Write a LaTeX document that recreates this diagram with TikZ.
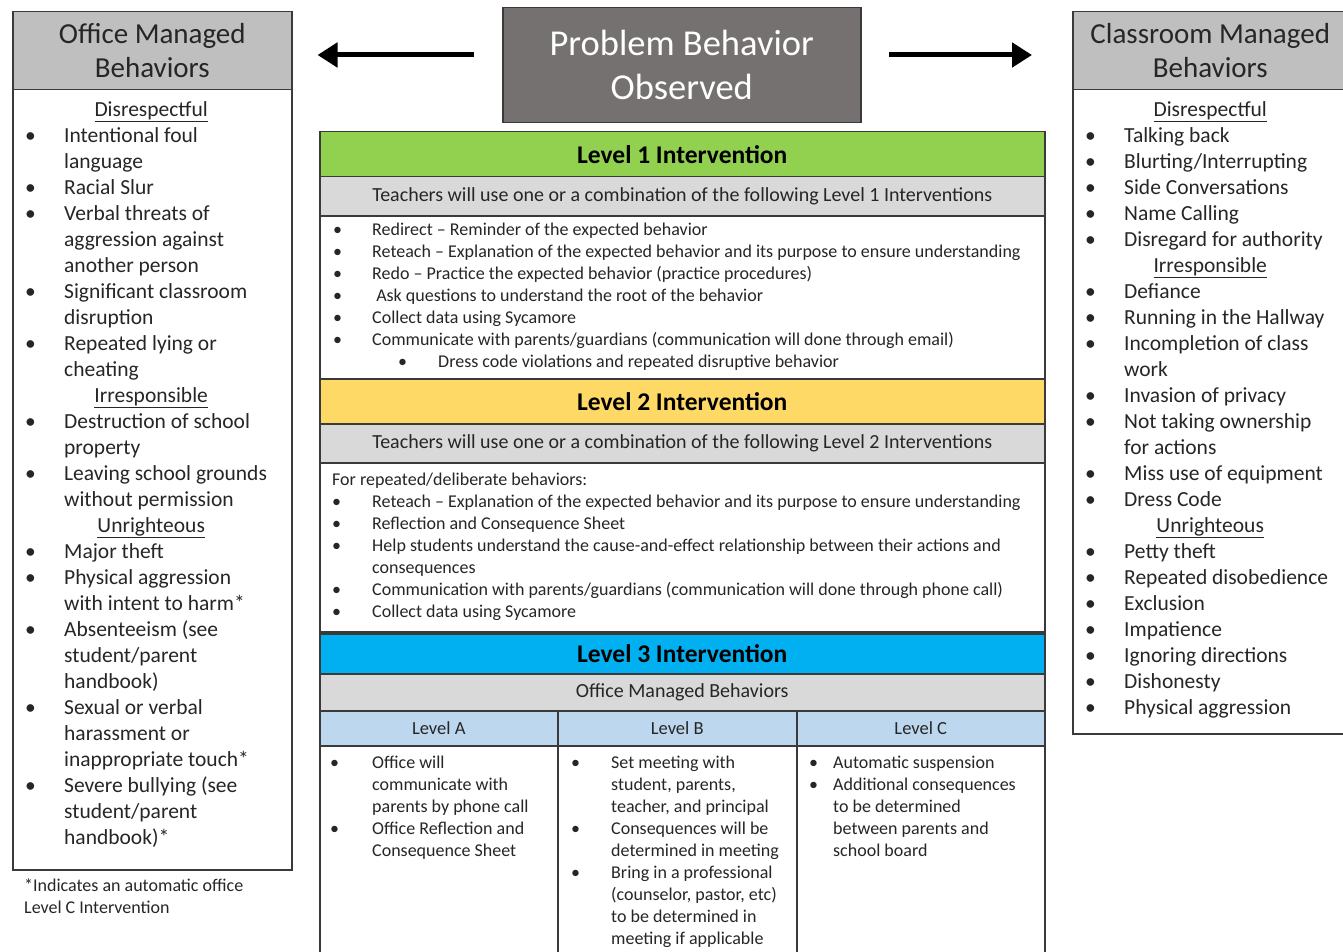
\documentclass[tikz,border=0pt]{standalone}
\usepackage{fontspec}
\setmainfont{Carlito}
\usetikzlibrary{arrows.meta}

\definecolor{boxline}{HTML}{3A3A3A}
\definecolor{txtdark}{HTML}{262626}
\definecolor{hdrgray}{HTML}{BFBFBF}
\definecolor{subgray}{HTML}{D9D9D9}
\definecolor{probgray}{HTML}{767171}
\definecolor{lvlgreen}{HTML}{92D050}
\definecolor{lvlyellow}{HTML}{FFD966}
\definecolor{lvlblue}{HTML}{00B0F0}
\definecolor{colblue}{HTML}{BDD7EE}

% bullet line, continuation line, underlined section head
\newcommand{\bitem}[2][39pt]{\makebox[#1][l]{\textbullet}#2}
\newcommand{\bcont}[2][39pt]{\hspace*{#1}#2}
\newcommand{\shead}[2]{\makebox[#1][c]{\underline{#2}}}

\tikzset{
  boxbase/.style={draw=boxline, line width=1.5pt, anchor=north west, inner sep=0pt, text=txtdark},
  sidehead/.style={boxbase, fill=hdrgray, align=center, font=\fontsize{29}{34}\selectfont},
  bodybox/.style={boxbase, fill=white},
  probbox/.style={boxbase, fill=probgray, text=white, align=center, font=\fontsize{36.5}{44}\selectfont},
  lvlhead/.style={boxbase, minimum width=725pt, font=\fontsize{25.5}{28}\selectfont\bfseries, text=black},
  subhead/.style={boxbase, fill=subgray, minimum width=725pt, font=\fontsize{20}{24}\selectfont},
  colhead/.style={boxbase, fill=colblue, minimum height=35pt, font=\fontsize{18.5}{22}\selectfont},
  biglist/.style={anchor=north west, inner sep=0pt, align=left, text=txtdark, font=\fontsize{21.5}{26}\selectfont},
  smalllist/.style={anchor=north west, inner sep=0pt, align=left, text=txtdark, font=\fontsize{18}{22}\selectfont},
  bigarrow/.style={-{Triangle[length=20pt,width=24pt]}, line width=5pt, black}
}

\begin{document}
\begin{tikzpicture}[x=1pt,y=-1pt]
\useasboundingbox (0,0) rectangle (1343,952);

% office managed column
\node[sidehead, minimum width=279pt, minimum height=78pt] (offhead) at (12,11) {Office Managed\\Behaviors};
\node[bodybox, minimum width=279pt, minimum height=780pt] (offbody) at (12,89) {};
\node[biglist] (offlist) at (25,101) {%
\shead{252pt}{Disrespectful}\\
\bitem{Intentional foul}\\ \bcont{language}\\
\bitem{Racial Slur}\\
\bitem{Verbal threats of}\\ \bcont{aggression against}\\ \bcont{another person}\\
\bitem{Significant classroom}\\ \bcont{disruption}\\
\bitem{Repeated lying or}\\ \bcont{cheating}\\
\shead{252pt}{Irresponsible}\\
\bitem{Destruction of school}\\ \bcont{property}\\
\bitem{Leaving school grounds}\\ \bcont{without permission}\\
\shead{252pt}{Unrighteous}\\
\bitem{Major theft}\\
\bitem{Physical aggression}\\ \bcont{with intent to harm*}\\
\bitem{Absenteeism (see}\\ \bcont{student/parent}\\ \bcont{handbook)}\\
\bitem{Sexual or verbal}\\ \bcont{harassment or}\\ \bcont{inappropriate touch*}\\
\bitem{Severe bullying (see}\\ \bcont{student/parent}\\ \bcont{handbook)*}};
\node[anchor=north west, inner sep=0pt, align=left, text=txtdark, font=\fontsize{18}{22}\selectfont] (footnote) at (24,879) {*Indicates an automatic office\\Level C Intervention};

% classroom managed column (runs past the right edge)
\node[sidehead, minimum width=285pt, minimum height=78pt] (clshead) at (1072,11) {Classroom Managed\hspace*{10pt}\\Behaviors\hspace*{10pt}};
\node[bodybox, minimum width=285pt, minimum height=644pt] (clsbody) at (1072,89) {};
\node[biglist] (clslist) at (1085,101) {%
\shead{250pt}{Disrespectful}\\
\bitem{Talking back}\\
\bitem{Blurting/Interrupting}\\
\bitem{Side Conversations}\\
\bitem{Name Calling}\\
\bitem{Disregard for authority}\\
\shead{250pt}{Irresponsible}\\
\bitem{Defiance}\\
\bitem{Running in the Hallway}\\
\bitem{Incompletion of class}\\ \bcont{work}\\
\bitem{Invasion of privacy}\\
\bitem{Not taking ownership}\\ \bcont{for actions}\\
\bitem{Miss use of equipment}\\
\bitem{Dress Code}\\
\shead{250pt}{Unrighteous}\\
\bitem{Petty theft}\\
\bitem{Repeated disobedience}\\
\bitem{Exclusion}\\
\bitem{Impatience}\\
\bitem{Ignoring directions}\\
\bitem{Dishonesty}\\
\bitem{Physical aggression}};

% problem box and arrows
\node[probbox, minimum width=358pt, minimum height=115pt] (prob) at (502,7) {Problem Behavior\\Observed};
\coordinate (arrowrow) at (0,55);
\draw[bigarrow, shorten <=28pt, shorten >=25pt] (prob.west |- arrowrow) -- (offhead.east |- arrowrow);
\draw[bigarrow, shorten <=27pt, shorten >=40pt] (prob.east |- arrowrow) -- (clshead.west |- arrowrow);

% level 1
\node[lvlhead, fill=lvlgreen, minimum height=45pt] (lvl1) at (319,131) {Level 1 Intervention};
\node[subhead, minimum height=39pt] (sub1) at (319,176) {Teachers will use one or a combination of the following Level 1 Interventions};
\node[bodybox, minimum width=725pt, minimum height=163pt] (body1) at (319,215) {};
\node[smalllist] (list1) at (333,223) {%
\bitem{Redirect – Reminder of the expected behavior}\\
\bitem{Reteach – Explanation of the expected behavior and its purpose to ensure understanding}\\
\bitem{Redo – Practice the expected behavior (practice procedures)}\\
\bitem{\ Ask questions to understand the root of the behavior}\\
\bitem{Collect data using Sycamore}\\
\bitem{Communicate with parents/guardians (communication will done through email)}\\
\hspace*{65pt}\bitem[40pt]{Dress code violations and repeated disruptive behavior}};

% level 2
\node[lvlhead, fill=lvlyellow, minimum height=45pt] (lvl2) at (319,378) {Level 2 Intervention};
\node[subhead, minimum height=39pt] (sub2) at (319,423) {Teachers will use one or a combination of the following Level 2 Interventions};
\node[bodybox, minimum width=725pt, minimum height=169pt] (body2) at (319,462) {};
\node[smalllist] (list2) at (332,473) {%
For repeated/deliberate behaviors:\\
\bitem[40pt]{Reteach – Explanation of the expected behavior and its purpose to ensure understanding}\\
\bitem[40pt]{Reflection and Consequence Sheet}\\
\bitem[40pt]{Help students understand the cause-and-effect relationship between their actions and}\\
\bcont[40pt]{consequences}\\
\bitem[40pt]{Communication with parents/guardians (communication will done through phone call)}\\
\bitem[40pt]{Collect data using Sycamore}};

% level 3
\node[lvlhead, fill=lvlblue, minimum height=40pt] (lvl3) at (319,633) {Level 3 Intervention};
\node[subhead, minimum height=37pt] (sub3) at (319,673) {Office Managed Behaviors};
\node[colhead, minimum width=238pt] (colA) at (319,710) {Level A};
\node[colhead, minimum width=239pt] (colB) at (557,710) {Level B};
\node[colhead, minimum width=248pt] (colC) at (796,710) {Level C};
\node[bodybox, minimum width=238pt, minimum height=215pt] (bodyA) at (319,745) {};
\node[bodybox, minimum width=239pt, minimum height=215pt] (bodyB) at (557,745) {};
\node[bodybox, minimum width=248pt, minimum height=215pt] (bodyC) at (796,745) {};
\node[smalllist] (listA) at (330,756) {%
\bitem[42pt]{Office will}\\ \bcont[42pt]{communicate with}\\ \bcont[42pt]{parents by phone call}\\
\bitem[42pt]{Office Reflection and}\\ \bcont[42pt]{Consequence Sheet}};
\node[smalllist] (listB) at (571,756) {%
\bitem[40pt]{Set meeting with}\\ \bcont[40pt]{student, parents,}\\ \bcont[40pt]{teacher, and principal}\\
\bitem[40pt]{Consequences will be}\\ \bcont[40pt]{determined in meeting}\\
\bitem[40pt]{Bring in a professional}\\ \bcont[40pt]{(counselor, pastor, etc)}\\ \bcont[40pt]{to be determined in}\\ \bcont[40pt]{meeting if applicable}};
\node[smalllist] (listC) at (809,756) {%
\bitem[24pt]{Automatic suspension}\\
\bitem[24pt]{Additional consequences}\\ \bcont[24pt]{to be determined}\\ \bcont[24pt]{between parents and}\\ \bcont[24pt]{school board}};
\end{tikzpicture}
\end{document}
